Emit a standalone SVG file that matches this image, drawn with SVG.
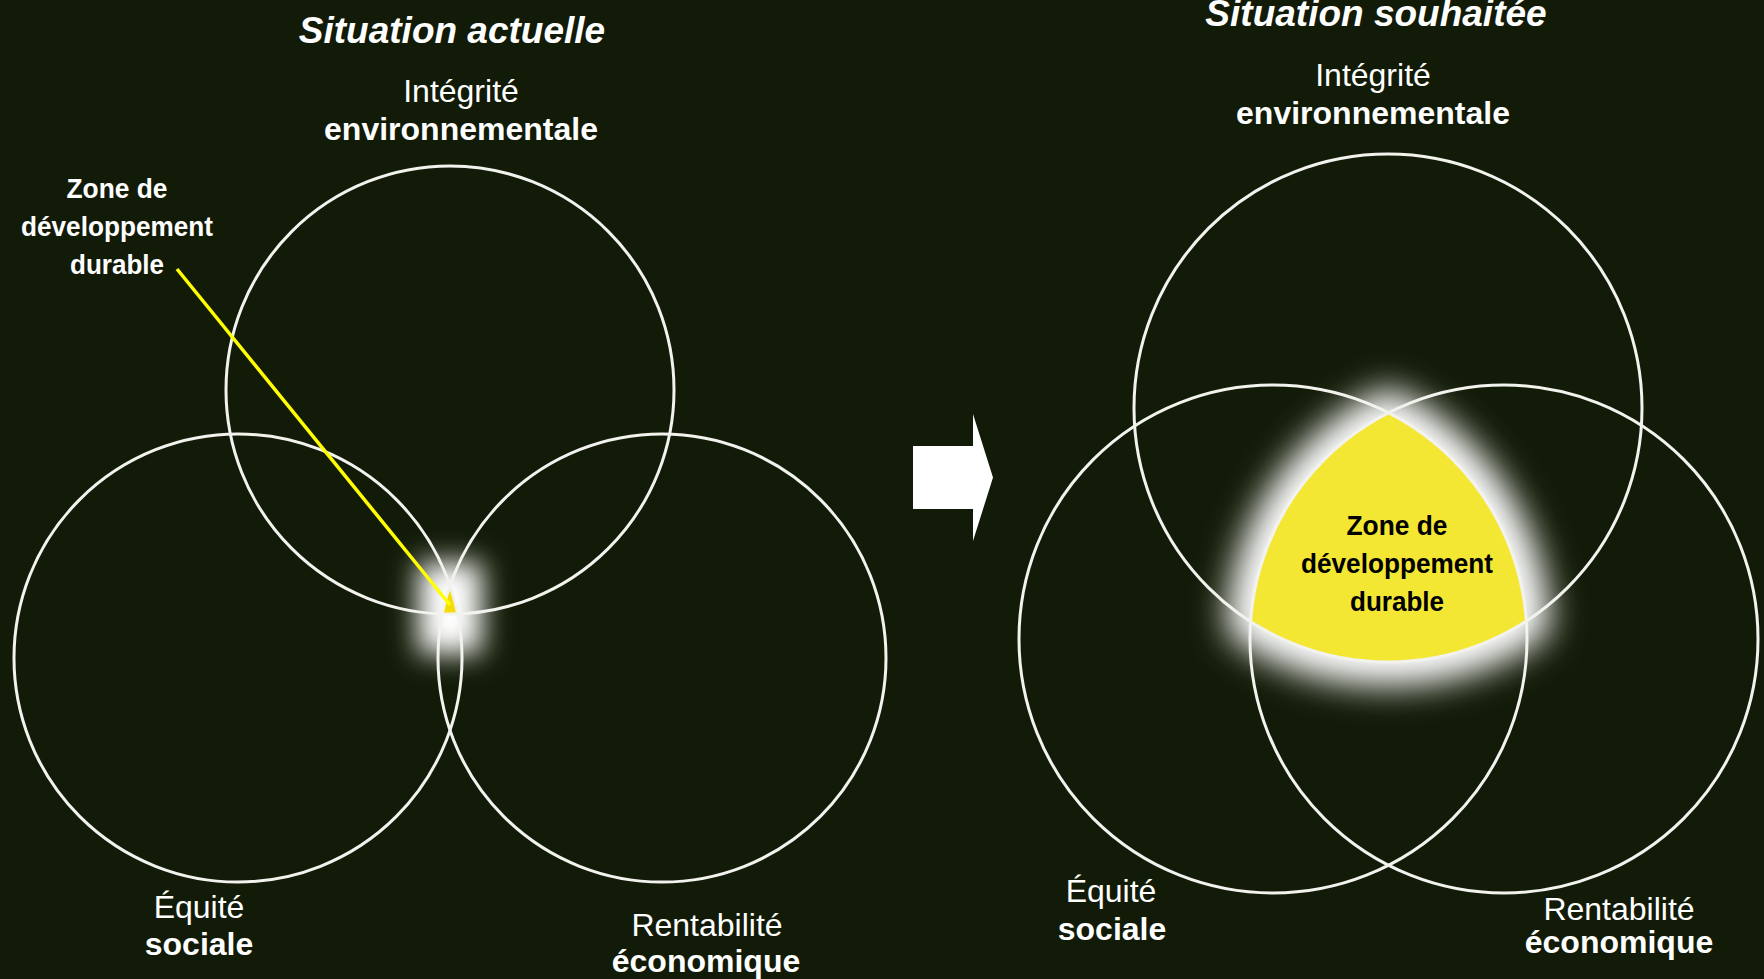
<svg xmlns="http://www.w3.org/2000/svg" width="1764" height="979" viewBox="0 0 1764 979">
  <style>
    .bg { fill: #121b07; }
    .circle { fill: none; stroke: #f2f2ee; stroke-width: 3; }
    .title { font-family: "Liberation Sans", Arial, sans-serif; font-size: 37px; font-weight: bold; font-style: italic; fill: #ffffff; text-anchor: middle; }
    .lbl { font-family: "Liberation Sans", Arial, sans-serif; font-size: 32px; fill: #ffffff; text-anchor: middle; }
    .lblb { font-family: "Liberation Sans", Arial, sans-serif; font-size: 32px; font-weight: bold; fill: #ffffff; text-anchor: middle; }
    .zone { font-family: "Liberation Sans", Arial, sans-serif; font-size: 28px; font-weight: bold; text-anchor: middle; }
  </style>
  <defs>
    <filter id="glowBig" x="-50%" y="-50%" width="200%" height="200%">
      <feGaussianBlur stdDeviation="17"/>
    </filter>
    <filter id="glowSmall" x="-100%" y="-100%" width="300%" height="300%">
      <feGaussianBlur stdDeviation="14"/>
    </filter>
  </defs>

  <rect class="bg" x="0" y="0" width="1764" height="979"/>

  <!-- Left diagram: current situation -->
  <g id="left-zone">
    <rect x="418" y="562" width="64" height="92" fill="#ffffff" filter="url(#glowSmall)"/>
    <path d="M450,585.7 A224 224 0 0 0 442.4,613.9 A224 224 0 0 0 457.6,613.9 A224 224 0 0 0 450,585.7 Z" fill="#f6dc00"/>
  </g>
  <g id="left-env">
    <circle class="circle" cx="450" cy="390" r="224"/>
  </g>
  <g id="left-soc">
    <circle class="circle" cx="238" cy="658" r="224"/>
  </g>
  <g id="left-eco">
    <circle class="circle" cx="662" cy="658" r="224"/>
  </g>

  <!-- Right diagram: desired situation -->
  <g id="right-zone">
    <path d="M1388.5,412.8 A254 254 0 0 0 1250.6,621.6 A254 254 0 0 0 1526.4,621 A254 254 0 0 0 1388.5,412.8 Z" fill="#ffffff" stroke="#ffffff" stroke-width="48" stroke-linejoin="round" filter="url(#glowBig)"/>
    <path d="M1388.5,412.8 A254 254 0 0 0 1250.6,621.6 A254 254 0 0 0 1526.4,621 A254 254 0 0 0 1388.5,412.8 Z" fill="#f4e733"/>
    <text class="zone" x="1397" y="535" fill="#000000" textLength="101" lengthAdjust="spacingAndGlyphs">Zone de</text>
    <text class="zone" x="1397" y="573" fill="#000000" textLength="192" lengthAdjust="spacingAndGlyphs">développement</text>
    <text class="zone" x="1397" y="611" fill="#000000" textLength="94" lengthAdjust="spacingAndGlyphs">durable</text>
  </g>
  <g id="right-env">
    <circle class="circle" cx="1388" cy="408" r="254"/>
  </g>
  <g id="right-soc">
    <circle class="circle" cx="1273" cy="639" r="254"/>
  </g>
  <g id="right-eco">
    <circle class="circle" cx="1504" cy="639" r="254"/>
  </g>

  <!-- Connectors -->
  <g id="connectors">
    <line x1="177" y1="269" x2="450" y2="605" stroke="#ffff00" stroke-width="3.5"/>
    <polygon points="913,446 973,446 973,414 993,477.5 973,541 973,509 913,509" fill="#ffffff"/>
  </g>

  <!-- Labels -->
  <g id="title-left">
    <text class="title" x="452" y="43">Situation actuelle</text>
  </g>
  <g id="title-right">
    <text class="title" x="1376" y="26">Situation souhaitée</text>
  </g>
  <g id="label-left-env">
    <text class="lbl" x="461" y="102">Intégrité</text>
    <text class="lblb" x="461" y="140">environnementale</text>
  </g>
  <g id="label-left-zone">
    <text class="zone" x="117" y="198" fill="#ffffff" textLength="101" lengthAdjust="spacingAndGlyphs">Zone de</text>
    <text class="zone" x="117" y="236" fill="#ffffff" textLength="192" lengthAdjust="spacingAndGlyphs">développement</text>
    <text class="zone" x="117" y="274" fill="#ffffff" textLength="94" lengthAdjust="spacingAndGlyphs">durable</text>
  </g>
  <g id="label-left-soc">
    <text class="lbl" x="199" y="918">Équité</text>
    <text class="lblb" x="199" y="955">sociale</text>
  </g>
  <g id="label-left-eco">
    <text class="lbl" x="707" y="936">Rentabilité</text>
    <text class="lblb" x="706" y="972">économique</text>
  </g>
  <g id="label-right-env">
    <text class="lbl" x="1373" y="86">Intégrité</text>
    <text class="lblb" x="1373" y="124">environnementale</text>
  </g>
  <g id="label-right-soc">
    <text class="lbl" x="1111" y="902">Équité</text>
    <text class="lblb" x="1112" y="940">sociale</text>
  </g>
  <g id="label-right-eco">
    <text class="lbl" x="1619" y="920">Rentabilité</text>
    <text class="lblb" x="1619" y="953">économique</text>
  </g>
</svg>
